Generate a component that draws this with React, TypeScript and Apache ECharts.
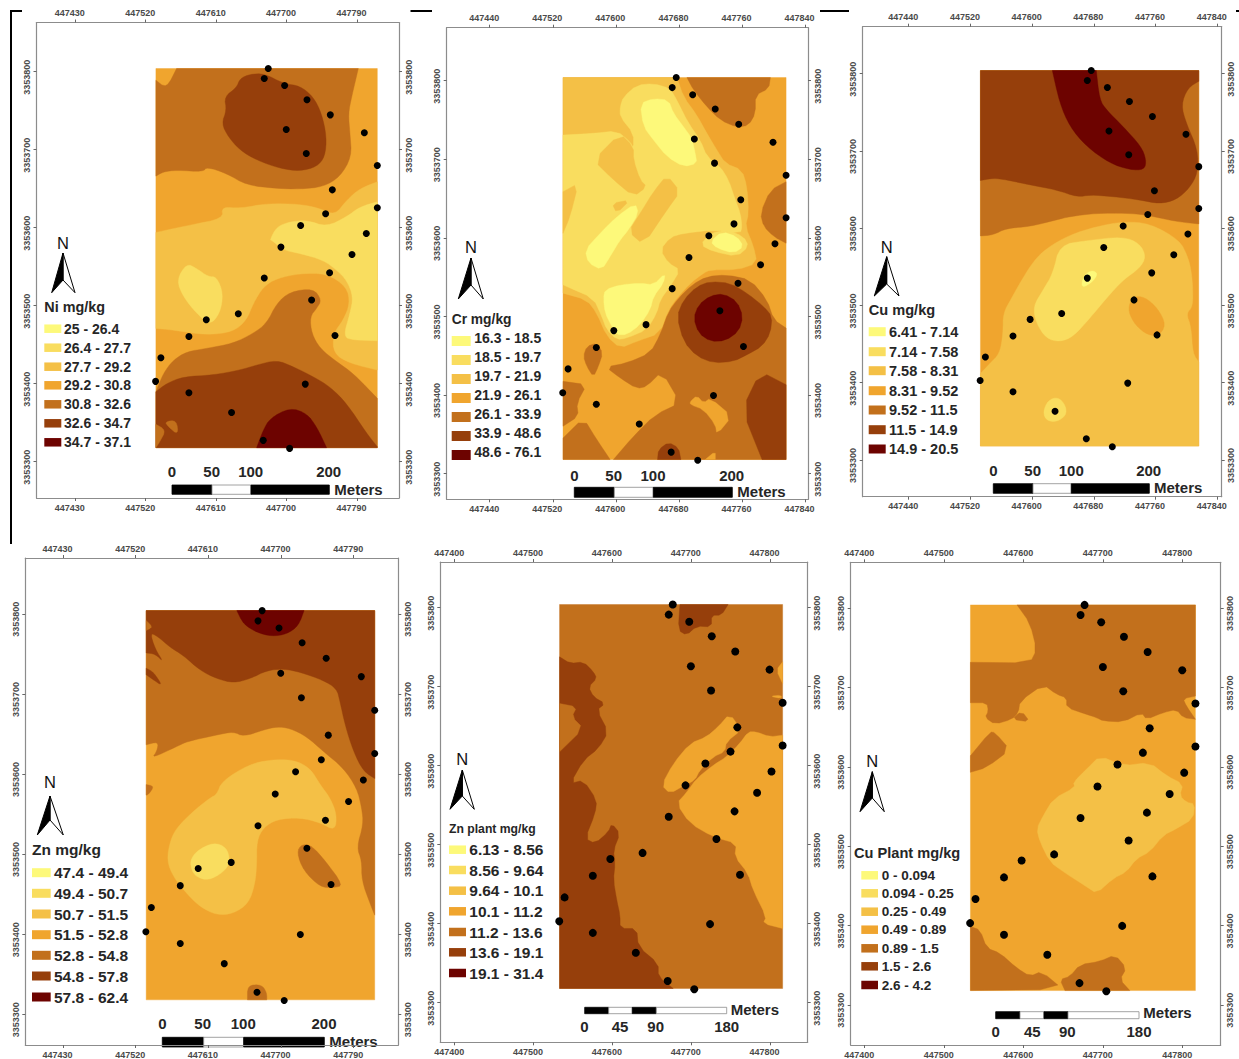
import React, { useEffect, useRef } from "react";
import * as echarts from "echarts";

// ---- class colours (low to high) ----
const classColors = ["#FDF97A", "#F9DD5F", "#F4C046", "#F0A52E", "#C2701C", "#963F0B", "#6D0300"];

// ---- survey extent of the interpolated raster (UTM metres) ----
const rasterEast = [447533, 447816];
const rasterNorth = [3353318, 3353804];

// ---- sampling sites (UTM metres) ----
const sampleEast = [447676.6, 447671.5, 447697.5, 447726.1, 447755.9, 447799.4, 447699.6, 447725.2, 447816, 447758.5, 447816, 447749.9, 447718, 447801.9, 447692.8, 447783.6, 447755, 447671.5, 447732, 447638.3, 447597.4, 447761.9, 447575.2, 447539.4, 447532.6, 447723.9, 447575.2, 447629.7, 447670.2, 447703.9];
const sampleNorth = [3353804, 3353791.2, 3353782.2, 3353763.9, 3353744.6, 3353721.6, 3353725.8, 3353695.1, 3353679.7, 3353648.5, 3353625.5, 3353617.8, 3353602.8, 3353592.6, 3353575.1, 3353565.7, 3353542.2, 3353535.4, 3353507.2, 3353489.6, 3353482, 3353461.9, 3353460.6, 3353433.3, 3353403, 3353399.5, 3353388.4, 3353363.2, 3353327.4, 3353317.1];

// ---- tick labels ----
const eastTicksA = [447430, 447520, 447610, 447700, 447790];
const eastTicksB = [447440, 447520, 447600, 447680, 447760, 447840];
const eastTicksC = [447400, 447500, 447600, 447700, 447800];
const northTicks = [3353300, 3353400, 3353500, 3353600, 3353700, 3353800];

// ---- legend classes ----
const niClasses = ["25 - 26.4", "26.4 - 27.7", "27.7 - 29.2", "29.2 - 30.8", "30.8 - 32.6", "32.6 - 34.7", "34.7 - 37.1"];
const crClasses = ["16.3 - 18.5", "18.5 - 19.7", "19.7 - 21.9", "21.9 - 26.1", "26.1 - 33.9", "33.9 - 48.6", "48.6 - 76.1"];
const cuClasses = ["6.41 - 7.14", "7.14 - 7.58", "7.58 - 8.31", "8.31 - 9.52", "9.52 - 11.5", "11.5 - 14.9", "14.9 - 20.5"];
const znClasses = ["47.4 - 49.4", "49.4 - 50.7", "50.7 - 51.5", "51.5 - 52.8", "52.8 - 54.8", "54.8 - 57.8", "57.8 - 62.4"];
const znPlantClasses = ["6.13 - 8.56", "8.56 - 9.64", "9.64 - 10.1", "10.1 - 11.2", "11.2 - 13.6", "13.6 - 19.1", "19.1 - 31.4"];
const cuPlantClasses = ["0 - 0.094", "0.094 - 0.25", "0.25 - 0.49", "0.49 - 0.89", "0.89 - 1.5", "1.5 - 2.6", "2.6 - 4.2"];

// ---- contour polygons: [class index, raster column/row pairs], painted in order ----
const niRaster = [664, 1138];
const niContours: [number, number[]][] = [
  [3, [0, 0, 664, 0, 664, 1138, 0, 1138]],
  [4, [62, 0, 607, 0, 587, 85, 577, 135, 582, 195, 587, 265, 552, 325, 502, 355, 432, 362, 362, 360, 272, 350, 212, 315, 152, 295, 142, 310, 62, 305, 22, 310, 0, 323, 0, 35, 32, 60]],
  [5, [282, 17, 325, 15, 382, 45, 432, 52, 472, 85, 497, 135, 512, 205, 507, 265, 482, 295, 432, 308, 372, 300, 302, 275, 252, 245, 217, 205, 197, 165, 212, 125, 205, 85, 242, 57, 252, 30]],
  [2, [0, 492, 32, 485, 102, 470, 202, 450, 197, 415, 252, 420, 332, 405, 432, 407, 492, 420, 537, 440, 572, 395, 612, 360, 664, 340, 664, 905, 582, 885, 532, 855, 532, 795, 562, 755, 582, 705, 572, 655, 512, 615, 432, 615, 362, 630, 322, 655, 292, 705, 272, 755, 232, 790, 152, 800, 52, 785, 0, 780]],
  [1, [342, 515, 362, 475, 402, 460, 452, 455, 512, 475, 572, 445, 612, 415, 664, 400, 664, 817, 592, 815, 562, 805, 582, 735, 592, 685, 572, 635, 542, 605, 502, 575, 432, 555, 382, 545, 347, 515]],
  [1, [62, 635, 82, 685, 122, 735, 162, 770, 192, 735, 202, 675, 182, 625, 157, 625, 122, 600, 92, 585]],
  [4, [0, 970, 22, 915, 52, 875, 92, 850, 152, 840, 232, 825, 292, 795, 332, 765, 362, 705, 402, 670, 472, 660, 497, 695, 482, 720, 462, 745, 467, 795, 492, 840, 542, 880, 592, 915, 664, 990, 664, 1138, 0, 1138]],
  [5, [0, 970, 32, 945, 82, 925, 172, 920, 252, 905, 302, 890, 362, 875, 412, 895, 472, 925, 522, 955, 572, 1005, 632, 1095, 664, 1135, 664, 1138, 0, 1138]],
  [4, [27, 1060, 62, 1055, 67, 1100, 37, 1075]],
  [4, [0, 1068, 30, 1085, 12, 1120, 0, 1138]],
  [6, [302, 1138, 322, 1085, 342, 1050, 402, 1018, 452, 1035, 482, 1075, 512, 1138]],
];

const crRaster = [668, 1148];
const crContours: [number, number[]][] = [
  [3, [0, 0, 668, 0, 668, 1148, 0, 1148]],
  [2, [0, 0, 341, 0, 361, 58, 401, 113, 431, 168, 461, 218, 486, 258, 536, 278, 551, 328, 556, 408, 546, 448, 571, 508, 581, 558, 521, 578, 441, 578, 421, 588, 381, 618, 341, 663, 316, 698, 291, 768, 221, 793, 171, 813, 131, 778, 101, 708, 71, 668, 0, 648]],
  [1, [0, 173, 91, 168, 161, 160, 201, 193, 211, 213, 211, 168, 171, 118, 171, 88, 181, 58, 221, 23, 271, 18, 321, 33, 341, 68, 376, 138, 411, 188, 431, 238, 471, 268, 496, 308, 516, 368, 531, 408, 536, 448, 531, 468, 451, 458, 361, 468, 321, 480, 291, 518, 316, 558, 351, 578, 321, 628, 291, 668, 281, 708, 251, 758, 191, 783, 161, 788, 131, 758, 116, 718, 91, 663, 11, 628, 0, 623]],
  [2, [91, 248, 171, 168, 211, 208, 211, 248, 231, 308, 251, 328, 211, 358, 146, 303]],
  [2, [311, 293, 351, 343, 311, 398, 241, 503, 196, 463, 231, 408, 271, 343]],
  [2, [146, 378, 201, 368, 161, 408]],
  [2, [0, 343, 46, 318, 21, 418, 0, 468]],
  [0, [66, 518, 111, 468, 161, 418, 216, 378, 226, 408, 196, 458, 171, 488, 141, 538, 116, 578, 76, 558]],
  [0, [231, 78, 271, 63, 316, 68, 331, 108, 361, 148, 386, 183, 396, 228, 401, 258, 361, 268, 311, 238, 271, 188, 241, 148]],
  [0, [121, 663, 126, 638, 171, 623, 231, 618, 271, 623, 306, 588, 301, 618, 271, 658, 261, 698, 231, 743, 191, 773, 161, 773, 146, 748, 126, 708]],
  [1, [411, 503, 441, 468, 491, 458, 541, 478, 556, 508, 521, 538, 451, 523]],
  [0, [441, 493, 476, 463, 521, 478, 541, 508, 511, 528, 461, 513]],
  [4, [371, 0, 621, 0, 616, 33, 576, 53, 576, 108, 556, 143, 521, 150, 471, 128, 431, 88, 391, 38]],
  [4, [668, 313, 621, 338, 591, 408, 601, 448, 631, 478, 668, 498]],
  [4, [316, 703, 346, 663, 386, 623, 431, 598, 491, 593, 561, 608, 611, 668, 631, 728, 668, 753, 668, 1148, 151, 1148, 211, 1078, 276, 1013, 351, 978, 296, 883, 251, 928, 221, 935, 171, 903, 128, 870, 191, 858, 261, 828, 291, 773]],
  [3, [381, 973, 401, 956, 421, 978, 441, 963, 506, 1018, 461, 1073, 456, 1043, 421, 998, 381, 983]],
  [3, [426, 1148, 456, 1123, 456, 1148]],
  [4, [61, 838, 71, 808, 101, 798, 119, 828, 106, 868, 91, 900, 71, 868]],
  [4, [0, 913, 71, 923, 41, 978, 46, 1018, 0, 1048]],
  [4, [0, 1083, 61, 1023, 101, 1088, 141, 1148, 0, 1148]],
  [5, [591, 883, 668, 923, 668, 1148, 596, 1148, 536, 998]],
  [5, [283, 1148, 286, 1118, 316, 1096, 346, 1113, 353, 1148]],
  [5, [341, 718, 361, 668, 401, 628, 441, 613, 501, 618, 551, 648, 601, 688, 626, 718, 621, 768, 596, 808, 551, 833, 511, 853, 451, 858, 401, 838, 361, 793]],
  [6, [391, 723, 406, 683, 441, 656, 481, 650, 521, 673, 539, 718, 526, 763, 486, 791, 441, 793, 406, 768]],
];

const cuRaster = [656, 1124];
const cuContours: [number, number[]][] = [
  [3, [0, 0, 656, 0, 656, 1124, 0, 1124]],
  [4, [0, 0, 656, 0, 656, 459, 588, 452, 498, 432, 438, 427, 348, 427, 268, 437, 228, 447, 148, 467, 78, 472, 38, 492, 0, 495]],
  [5, [0, 0, 656, 0, 656, 32, 623, 52, 603, 102, 618, 157, 653, 237, 653, 307, 628, 352, 588, 387, 538, 399, 478, 387, 398, 377, 328, 372, 293, 379, 228, 357, 148, 342, 78, 327, 38, 322, 0, 329]],
  [6, [216, 0, 348, 0, 358, 87, 378, 117, 428, 167, 483, 227, 498, 267, 493, 297, 448, 297, 388, 277, 318, 227, 268, 167, 238, 97]],
  [2, [0, 907, 0, 1124, 656, 1124, 656, 872, 638, 847, 633, 767, 618, 727, 638, 707, 638, 647, 633, 597, 623, 557, 598, 507, 508, 457, 428, 452, 348, 467, 268, 492, 198, 532, 158, 572, 118, 637, 93, 682, 68, 727, 68, 787, 58, 847, 28, 877]],
  [1, [238, 522, 318, 509, 428, 497, 478, 517, 498, 557, 478, 592, 428, 627, 378, 682, 328, 742, 278, 797, 238, 812, 198, 802, 168, 757, 158, 707, 188, 657, 218, 607]],
  [0, [303, 652, 308, 617, 333, 597, 353, 607, 338, 632]],
  [1, [188, 1022, 203, 987, 233, 977, 256, 1002, 258, 1032, 228, 1052, 198, 1047]],
  [3, [443, 712, 458, 677, 493, 677, 533, 712, 558, 762, 533, 797, 493, 787, 458, 752]],
];

const znRaster = [686, 1177];
const znContours: [number, number[]][] = [
  [3, [0, 0, 686, 0, 686, 1177, 0, 1177]],
  [4, [0, 0, 686, 0, 686, 921, 672, 886, 647, 816, 647, 756, 632, 716, 652, 646, 647, 596, 632, 536, 592, 476, 532, 426, 482, 381, 432, 356, 392, 351, 352, 361, 292, 381, 262, 366, 212, 376, 122, 396, 92, 411, 17, 446, 32, 426, 37, 396, 0, 406]],
  [4, [0, 526, 24, 531, 7, 556, 0, 558]],
  [5, [0, 0, 686, 0, 686, 508, 652, 486, 622, 426, 597, 346, 582, 276, 572, 236, 532, 211, 462, 186, 412, 176, 362, 181, 312, 206, 262, 219, 212, 206, 162, 181, 112, 136, 72, 111, 32, 76, 12, 68, 27, 116, 52, 156, 27, 131, 0, 128]],
  [5, [0, 174, 22, 186, 50, 229, 17, 206, 0, 194]],
  [4, [0, 30, 20, 50, 0, 60]],
  [6, [272, 0, 474, 0, 457, 46, 422, 71, 377, 78, 332, 66, 292, 41]],
  [2, [212, 556, 227, 516, 307, 466, 372, 451, 442, 451, 492, 476, 522, 526, 552, 566, 572, 616, 567, 666, 522, 641, 462, 626, 392, 631, 352, 656, 332, 696, 332, 766, 327, 826, 307, 886, 262, 916, 212, 921, 162, 896, 122, 856, 82, 806, 62, 756, 72, 696, 92, 656, 142, 606, 192, 566]],
  [1, [132, 756, 152, 726, 202, 701, 242, 716, 252, 761, 232, 791, 187, 816, 152, 806, 137, 786]],
  [4, [452, 731, 467, 706, 497, 711, 537, 756, 592, 831, 562, 838, 522, 836, 472, 786]],
  [4, [304, 1177, 304, 1133, 347, 1131, 362, 1156, 362, 1177]],
];

const znPlantRaster = [671, 1152];
const znPlantContours: [number, number[]][] = [
  [4, [0, 0, 671, 0, 671, 1152, 0, 1152]],
  [5, [362, 0, 507, 0, 487, 32, 457, 32, 457, 67, 412, 65, 382, 92, 357, 77]],
  [5, [0, 157, 32, 177, 72, 172, 102, 202, 112, 222, 87, 247, 102, 277, 137, 297, 112, 317, 147, 382, 117, 432, 72, 467, 32, 537, 72, 527, 112, 587, 107, 627, 77, 702, 107, 717, 147, 682, 157, 657, 182, 687, 162, 737, 167, 777, 162, 827, 172, 887, 182, 932, 182, 972, 232, 972, 237, 1027, 297, 1077, 297, 1117, 342, 1152, 0, 1152]],
  [4, [0, 297, 52, 307, 37, 337, 72, 372, 0, 442]],
  [3, [671, 392, 632, 397, 592, 382, 567, 382, 542, 417, 502, 457, 462, 482, 412, 522, 382, 564, 352, 597, 392, 657, 462, 697, 532, 717, 527, 757, 567, 807, 582, 857, 622, 937, 612, 957, 671, 972]],
  [3, [307, 542, 342, 477, 392, 417, 442, 397, 477, 367, 512, 327, 547, 377, 502, 412, 497, 442, 462, 457, 422, 497, 407, 527, 377, 542, 332, 567]],
  [3, [671, 172, 652, 197, 671, 237]],
  [3, [632, 275, 667, 272, 667, 282]],
];

const cuPlantRaster = [676, 1163];
const cuPlantContours: [number, number[]][] = [
  [3, [0, 0, 676, 0, 676, 1163, 0, 1163]],
  [4, [140, 0, 676, 0, 676, 275, 639, 283, 649, 305, 676, 345, 639, 340, 619, 315, 579, 325, 529, 345, 514, 325, 459, 353, 399, 350, 379, 340, 349, 330, 289, 310, 289, 280, 259, 270, 219, 240, 149, 290, 144, 325, 124, 345, 74, 360, 44, 340, 54, 320, 49, 295, 0, 295, 0, 173, 179, 175, 199, 135, 179, 55]],
  [4, [124, 345, 154, 320, 179, 353]],
  [4, [0, 455, 59, 383, 74, 385, 119, 437, 49, 490, 0, 505]],
  [2, [249, 585, 314, 550, 309, 535, 349, 495, 389, 455, 459, 485, 539, 475, 589, 515, 639, 540, 629, 575, 649, 595, 674, 600, 669, 645, 619, 675, 579, 695, 539, 745, 499, 765, 469, 805, 429, 825, 379, 870, 349, 850, 279, 805, 239, 775, 209, 715, 199, 675, 219, 635]],
  [4, [0, 970, 29, 980, 49, 1035, 89, 1050, 139, 1095, 179, 1120, 214, 1105, 279, 1160, 0, 1163]],
  [4, [269, 1130, 299, 1120, 329, 1085, 389, 1075, 434, 1055, 469, 1095, 449, 1130, 479, 1163, 284, 1163]],
];

// ---- panel layout: frame in page pixels, axis limits, furniture ----
const FONT = '"Liberation Sans", Arial, sans-serif';
const panels = [
  {
    title: "Ni mg/kg", titleFont: 14.4, classes: niClasses, contours: niContours, raster: niRaster, ticks: eastTicksA, rounding: 2,
    frame: [36.5, 22.5, 399, 498], east: [447380.4, 447843.7], north: [3353253.5, 3353863],
    titlePos: [44.3, 307], swatch: [44.3, 17, 8.5], labelX: 64, labelFont: 14, rowY: [328.7, 347.7, 366.7, 385.3, 404.3, 423.3, 442.3], textShift: 0,
    north_: { cx: 63, n: 243, tip: 253, foot: 292.7, l: 51.7, r: 75, notch: 280 },
    bar: { y: [485, 494.3], segs: [172, 212, 251, 329.3], blackEvery: true, labels: ["0", "50", "100", "200"], labelX: [172, 211.7, 250.7, 328.7], labelY: 471.7, mx: 334.3, my: 489 },
  },
  {
    title: "Cr mg/kg", titleFont: 13.8, classes: crClasses, contours: crContours, raster: crRaster, ticks: eastTicksB, rounding: 1,
    frame: [446.7, 27.7, 808, 499.3], east: [447385.4, 447843.8], north: [3353267.4, 3353867.4],
    titlePos: [451.7, 319.3], swatch: [451.7, 19, 10], labelX: 474.3, labelFont: 14, rowY: [341, 360, 379, 398, 417, 436, 455], textShift: -3,
    north_: { cx: 471, n: 247.3, tip: 258, foot: 299, l: 458.3, r: 483.3, notch: 285 },
    bar: { y: [487.3, 497.3], segs: [574.3, 614.3, 653.3, 732.3], blackEvery: true, labels: ["0", "50", "100", "200"], labelX: [574.3, 613.7, 653, 731.7], labelY: 475, mx: 737.3, my: 491.7 },
  },
  {
    title: "Cu mg/kg", titleFont: 14.6, classes: cuClasses, contours: cuContours, raster: cuRaster, ticks: eastTicksB, rounding: 2,
    frame: [862.7, 26.7, 1221.7, 496.7], east: [447380.4, 447845.7], north: [3353252.5, 3353860.8],
    titlePos: [868.7, 310], swatch: [868.7, 17, 9], labelX: 889, labelFont: 14.5, rowY: [331.7, 351.7, 370.7, 390.7, 410, 429.7, 449], textShift: 0,
    north_: { cx: 886.7, n: 246.7, tip: 256.7, foot: 296, l: 874.3, r: 899, notch: 284 },
    bar: { y: [483.7, 493.3], segs: [993.3, 1033, 1071.3, 1149.3], blackEvery: true, labels: ["0", "50", "100", "200"], labelX: [993.3, 1032.7, 1071.3, 1148.7], labelY: 470, mx: 1154, my: 487.7 },
  },
  {
    title: "Zn mg/kg", titleFont: 15.5, classes: znClasses, contours: znContours, raster: znRaster, ticks: eastTicksA, rounding: 2,
    frame: [25.3, 558, 398.3, 1049.3], east: [447383.3, 447845.2], north: [3353261.6, 3353869.7],
    titlePos: [32, 849.3], swatch: [32, 18.7, 9], labelX: 54, labelFont: 15.5, rowY: [872.7, 893.3, 914, 934.7, 955.3, 976, 997], textShift: 0,
    north_: { cx: 50, n: 782.3, tip: 796, foot: 835, l: 37.3, r: 63.3, notch: 820 },
    bar: { y: [1037.3, 1047], segs: [162.3, 203.7, 243.7, 324.3], blackEvery: true, labels: ["0", "50", "100", "200"], labelX: [162.3, 202.7, 243.3, 324], labelY: 1023.3, mx: 329.3, my: 1041.7 },
  },
  {
    title: "Zn plant mg/kg", titleFont: 12.2, classes: znPlantClasses, contours: znPlantContours, raster: znPlantRaster, ticks: eastTicksC, rounding: 1,
    frame: [440.3, 562, 807.7, 1042.3], east: [447381.7, 447847.8], north: [3353249.9, 3353857.8],
    titlePos: [449, 829], swatch: [449, 17, 8.5], labelX: 469.3, labelFont: 15.5, rowY: [849.7, 870, 890.7, 911.3, 932, 952.3, 973], textShift: 0,
    north_: { cx: 462.3, n: 759.3, tip: 770, foot: 809.3, l: 450, r: 474.3, notch: 796 },
    bar: { y: [1007.3, 1013.7], segs: [584.7, 608.7, 632.3, 656.3, 726.7], blackEvery: false, labels: ["0", "45", "90", "180"], labelX: [584.3, 620, 655.7, 726.7], labelY: 1026, mx: 730.7, my: 1009 },
  },
  {
    title: "Cu Plant mg/kg", titleFont: 14.6, classes: cuPlantClasses, contours: cuPlantContours, raster: cuPlantRaster, ticks: eastTicksC, rounding: 1,
    frame: [850.7, 562.3, 1220.7, 1047], east: [447382.4, 447847.8], north: [3353249.4, 3353857.7],
    titlePos: [854, 853.3], swatch: [861.3, 16.7, 8.5], labelX: 881.7, labelFont: 13.5, rowY: [875.3, 893.3, 911.7, 929.7, 948.3, 966.3, 985], textShift: 0,
    north_: { cx: 872.3, n: 761, tip: 771.7, foot: 811.7, l: 860, r: 884.3, notch: 798 },
    bar: { y: [1011.7, 1018.7], segs: [995.7, 1020, 1044, 1068, 1139], blackEvery: false, labels: ["0", "45", "90", "180"], labelX: [995.7, 1032.3, 1067.3, 1139], labelY: 1031, mx: 1143.3, my: 1012.7 },
  },
];

const pageRules = [
  [10, 10, 2, 534],
  [10, 10, 12, 2],
  [410.5, 10, 21.5, 2],
  [820, 10, 29, 2],
  [1236, 10, 3, 2],
];

// Rounds a contour's corners for drawing; vertices on the raster edge stay where they are.
function roundCorners(cells: number[], cols: number, rows: number, passes: number) {
  let pts: number[][] = [];
  for (let k = 0; k < cells.length; k += 2) pts.push([cells[k], cells[k + 1]]);
  const onEdge = (p: number[]) => p[0] <= 0 || p[1] <= 0 || p[0] >= cols || p[1] >= rows;
  for (let pass = 0; pass < passes; pass++) {
    const next: number[][] = [];
    pts.forEach((p, k) => {
      if (onEdge(p)) {
        next.push(p);
        return;
      }
      const a = pts[(k - 1 + pts.length) % pts.length];
      const b = pts[(k + 1) % pts.length];
      next.push([p[0] * 0.75 + a[0] * 0.25, p[1] * 0.75 + a[1] * 0.25]);
      next.push([p[0] * 0.75 + b[0] * 0.25, p[1] * 0.75 + b[1] * 0.25]);
    });
    pts = next;
  }
  return pts;
}

function axisCommon(ticks: number[], rotate: number) {
  return {
    type: "value" as const,
    scale: true,
    splitLine: { show: false },
    axisLine: { show: true, onZero: false, lineStyle: { color: "#8c8c8c", width: 1.2 } },
    axisTick: { show: true, length: 3, customValues: ticks, lineStyle: { color: "#666", width: 1 } },
    axisLabel: {
      show: true, customValues: ticks, rotate, margin: 5, fontSize: 9, fontWeight: "bold" as const,
      fontFamily: FONT, color: "#4a4a4a", padding: [0, 11, 0, 0],
      formatter: (v: number) => String(v),
    },
  };
}

function buildOption() {
  const grid: any[] = [];
  const xAxis: any[] = [];
  const yAxis: any[] = [];
  const series: any[] = [];
  const graphic: any[] = [];

  pageRules.forEach(([x, y, width, height]) =>
    graphic.push({ type: "rect", silent: true, shape: { x, y, width, height }, style: { fill: "#000" } })
  );

  panels.forEach((p, i) => {
    const [l, t, r, b] = p.frame;
    grid.push({ left: l, top: t, width: r - l, height: b - t, show: false });
    ["bottom", "top"].forEach((position) =>
      xAxis.push({ ...axisCommon(p.ticks, 0), gridIndex: i, position, min: p.east[0], max: p.east[1] })
    );
    ["left", "right"].forEach((position) =>
      yAxis.push({ ...axisCommon(northTicks, 90), gridIndex: i, position, min: p.north[0], max: p.north[1] })
    );
    const [cols, rows] = p.raster;
    const toWorld = (c: number, rw: number) => [
      rasterEast[0] + (c / cols) * (rasterEast[1] - rasterEast[0]),
      rasterNorth[1] - (rw / rows) * (rasterNorth[1] - rasterNorth[0]),
    ];
    series.push({
      type: "custom",
      name: p.title + " classes",
      xAxisIndex: i * 2,
      yAxisIndex: i * 2,
      silent: true,
      clip: false,
      encode: { x: 0, y: 1 },
      data: p.contours.map((layer, k) => [rasterEast[0], rasterNorth[0], k]),
      renderItem: (params: any, api: any) => {
        const [cls, cells] = p.contours[params.dataIndex];
        const points = roundCorners(cells, cols, rows, p.rounding).map(([c, rw]) => api.coord(toWorld(c, rw)));
        return { type: "polygon", shape: { points }, style: { fill: classColors[cls], stroke: classColors[cls], lineWidth: 0.4 } };
      },
      z: 2,
    });
    series.push({
      type: "scatter",
      name: p.title + " samples",
      xAxisIndex: i * 2,
      yAxisIndex: i * 2,
      symbolSize: i >= 4 ? 8 : 7,
      itemStyle: { color: "#000", opacity: 1 },
      silent: true,
      clip: false,
      data: sampleEast.map((e, k) => [e, sampleNorth[k]]),
      z: 3,
    });

    // legend
    graphic.push({
      type: "text", silent: true,
      style: { text: p.title, x: p.titlePos[0], y: p.titlePos[1], font: `bold ${p.titleFont}px ${FONT}`, fill: "#262626", textVerticalAlign: "middle" },
    });
    p.classes.forEach((label, k) => {
      graphic.push({
        type: "rect", silent: true,
        shape: { x: p.swatch[0], y: p.rowY[k] - p.swatch[2] / 2, width: p.swatch[1], height: p.swatch[2] },
        style: { fill: classColors[k] },
      });
      graphic.push({
        type: "text", silent: true,
        style: { text: label, x: p.labelX, y: p.rowY[k] + p.textShift, font: `bold ${p.labelFont}px ${FONT}`, fill: "#262626", textVerticalAlign: "middle" },
      });
    });

    // north arrow
    const n = p.north_;
    graphic.push({ type: "text", silent: true, style: { text: "N", x: n.cx, y: n.n, font: `16.5px ${FONT}`, fill: "#111", textAlign: "center", textVerticalAlign: "middle" } });
    graphic.push({ type: "polygon", silent: true, shape: { points: [[n.cx, n.tip], [n.r, n.foot], [n.cx, n.notch]] }, style: { fill: "#fff", stroke: "#000", lineWidth: 1 } });
    graphic.push({ type: "polygon", silent: true, shape: { points: [[n.cx, n.tip], [n.l, n.foot], [n.cx, n.notch]] }, style: { fill: "#000", stroke: "#000", lineWidth: 1 } });

    // scale bar
    const s = p.bar;
    for (let k = 0; k < s.segs.length - 1; k++) {
      const black = s.blackEvery ? k !== 1 : k % 2 === 0;
      graphic.push({
        type: "rect", silent: true,
        shape: { x: s.segs[k], y: s.y[0], width: s.segs[k + 1] - s.segs[k], height: s.y[1] - s.y[0] },
        style: { fill: black ? "#000" : "#fff", stroke: black ? "#000" : "#8c8c8c", lineWidth: 0.8 },
      });
    }
    s.labels.forEach((label, k) =>
      graphic.push({
        type: "text", silent: true,
        style: { text: label, x: s.labelX[k], y: s.labelY, font: `bold 15px ${FONT}`, fill: "#262626", textAlign: "center", textVerticalAlign: "middle" },
      })
    );
    graphic.push({
      type: "text", silent: true,
      style: { text: "Meters", x: s.mx, y: s.my, font: `bold 15px ${FONT}`, fill: "#262626", textVerticalAlign: "middle" },
    });
  });

  return { animation: false, backgroundColor: "#fff", grid, xAxis, yAxis, series, graphic };
}

export default function App() {
  const ref = useRef<HTMLDivElement>(null);
  useEffect(() => {
    document.body.style.margin = "0";
    const chart = echarts.init(ref.current!, undefined, { renderer: "svg" });
    chart.setOption(buildOption());
    return () => chart.dispose();
  }, []);
  return <div ref={ref} style={{ width: 1239, height: 1059 }} />;
}
